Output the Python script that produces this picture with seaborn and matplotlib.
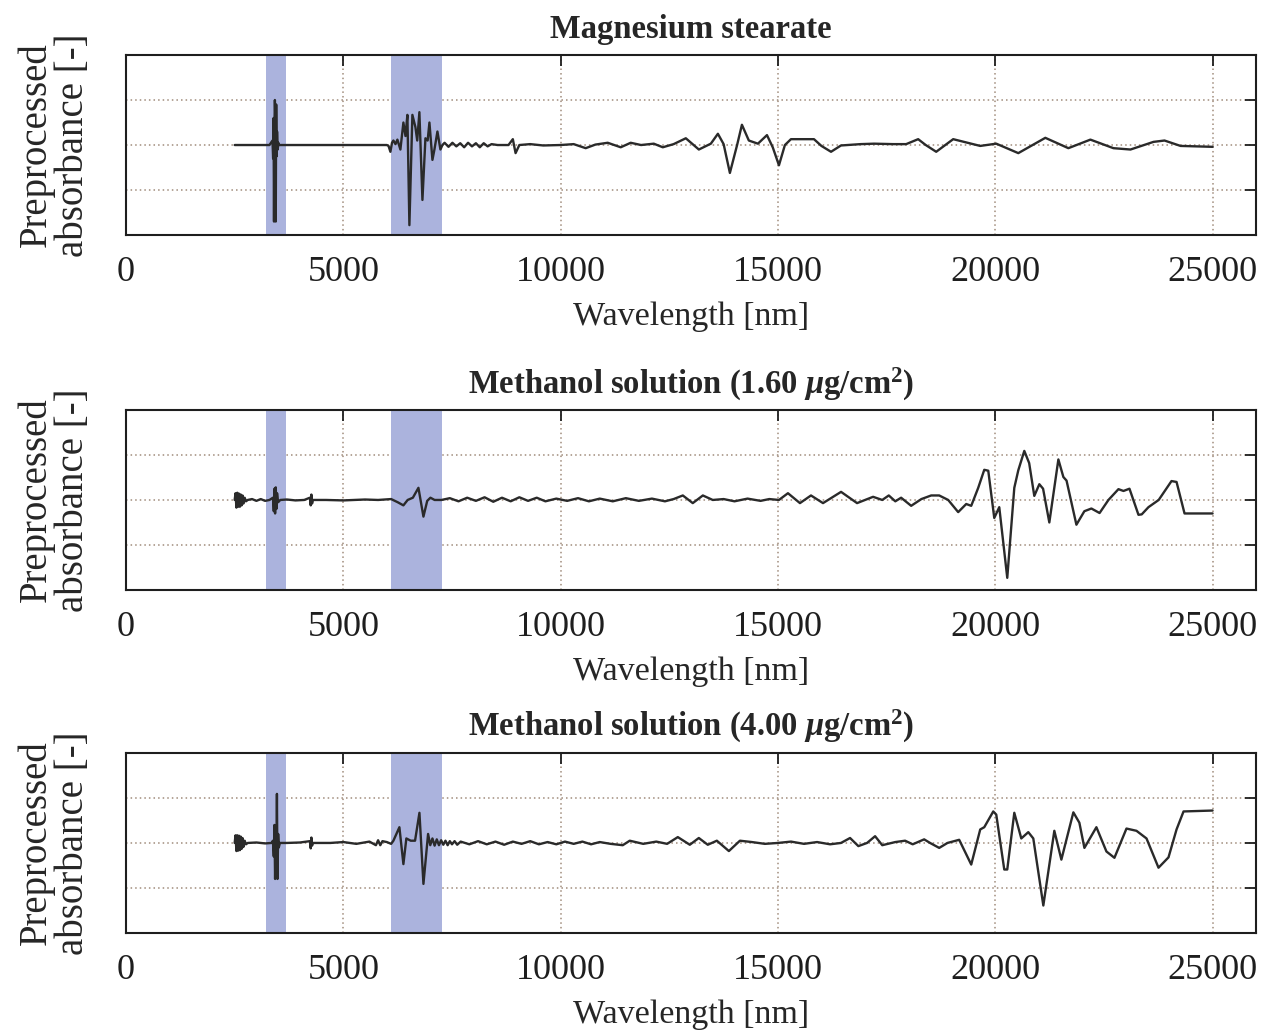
import numpy as np
import pandas as pd
import matplotlib
matplotlib.use("Agg")
import matplotlib.pyplot as plt
import seaborn as sns

# ---- data (x in nm, y in grid units) ----
titles = [
    "Magnesium stearate",
    r"Methanol solution (1.60 $\mu$g/cm$^{\mathrm{2}}$)",
    r"Methanol solution (4.00 $\mu$g/cm$^{\mathrm{2}}$)",
]

bands = [(3230, 3690), (6100, 7280)]

xticks = [0, 5000, 10000, 15000, 20000, 25000]
yticks = [-1, 0, 1]

mg_x = [2500, 3300, 3370, 3385, 3395, 3405, 3415, 3425, 3435, 3445, 3455, 3465,
        3475, 3490, 3505, 3520, 3540, 3600, 6000, 6040, 6083, 6120, 6152, 6200,
        6244, 6313, 6382, 6430, 6474, 6520, 6589, 6658, 6700, 6750, 6820, 6889,
        6940, 6981, 7050, 7096, 7165, 7234, 7280, 7330, 7420, 7510, 7600, 7690,
        7780, 7870, 7960, 8050, 8140, 8230, 8320, 8410, 8550, 8800, 8900, 8963,
        9050, 9300, 9600, 10000, 10300, 10576, 10800, 11083, 11382, 11612, 11850,
        12143, 12350, 12600, 12880, 13180, 13456, 13618, 13750, 13894, 14060,
        14171, 14330, 14539, 14747, 14880, 15023, 15160, 15299, 15829, 16000,
        16221, 16450, 16900, 17212, 17650, 17950, 18226, 18400, 18641, 19032,
        19654, 20023, 20530, 21152, 21682, 22189, 22719, 23111, 23641, 23894,
        24263, 25000]
mg_y = [0, 0, 0.1, -0.3, 0.6, -1.7, 0.4, 1.0, 0.62, -1.7, 0.9, -0.25,
        0.3, -0.1, 0.05, 0, 0, 0, 0, -0.02, -0.15, 0.05, 0.1, 0.02,
        0.12, -0.1, 0.5, 0.2, 0.67, -1.78, 0.67, 0.4, 0.1, 0.73, -1.22, 0.15,
        0.1, 0.5, -0.33, -0.1, 0.3, -0.1, 0.0, 0.05, -0.04, 0.05, -0.03, 0.04,
        -0.05, 0.05, -0.03, 0.04, -0.05, 0.04, -0.03, 0.02, 0.0, 0.0, 0.13, -0.18,
        0.0, 0.02, -0.01, 0.0, 0.02, -0.07, 0.01, 0.05, -0.05, 0.05, 0.0,
        0.03, -0.05, 0.02, 0.15, -0.1, 0.03, 0.25, 0.02, -0.62, 0.0,
        0.45, 0.1, 0.03, 0.22, -0.05, -0.45, 0.0, 0.13, 0.13, -0.02,
        -0.15, -0.01, 0.02, 0.03, 0.02, 0.02, 0.13, 0.0, -0.15, 0.13,
        -0.02, 0.03, -0.18, 0.16, -0.07, 0.12, -0.07, -0.1, 0.07, 0.1,
        -0.02, -0.04]

m16_x = [2500, 2520, 2540, 2560, 2580, 2600, 2620, 2640, 2660, 2680, 2700, 2730,
         2760, 2800, 2900, 3000, 3100, 3200, 3300, 3380, 3400, 3415, 3430, 3445,
         3460, 3475, 3500, 3550, 3700, 3900, 4100, 4230, 4250, 4265, 4280, 4300,
         4600, 5000, 5500, 5800, 6100, 6250, 6382, 6480, 6600, 6728, 6843, 6930,
         7004, 7100, 7258, 7450, 7650, 7850, 8050, 8250, 8450, 8650, 8850, 9050,
         9250, 9450, 9650, 9900, 10150, 10400, 10650, 10900, 11200, 11500, 11800,
         12100, 12400, 12600, 12811, 13040, 13272, 13500, 13750, 14000, 14300,
         14600, 14800, 15023, 15230, 15506, 15760, 16037, 16452, 16820, 17189,
         17400, 17550, 17700, 17834, 18065, 18300, 18526, 18710, 18917, 19147,
         19332, 19447, 19608, 19747, 19839, 19977, 20092, 20276, 20438, 20530,
         20668, 20780, 20898, 21014, 21100, 21244, 21452, 21567, 21640, 21867,
         22050, 22212, 22400, 22604, 22834, 22950, 23088, 23295, 23370, 23525,
         23760, 24055, 24171, 24355, 25000]
m16_y = [0, 0.15, -0.17, 0.16, -0.15, 0.14, -0.15, 0.12, -0.12, 0.1, -0.08, 0.05,
         -0.03, 0.0, 0.02, -0.02, 0.02, -0.02, 0.0, 0.05, -0.25, 0.25, -0.3, 0.28,
         -0.2, 0.15, -0.05, 0.0, 0.01, -0.01, 0.0, 0.05, -0.12, 0.12, -0.08, 0.0,
         0.0, -0.01, 0.01, 0.0, 0.02, -0.05, -0.12, 0.0, 0.05, 0.27, -0.37, -0.02,
         0.05, 0.0, 0.0, 0.04, -0.03, 0.05, -0.02, 0.06, -0.04, 0.05, -0.03, 0.06,
         -0.02, 0.05, -0.03, 0.03, -0.02, 0.04, -0.03, 0.03, -0.03, 0.04, -0.02,
         0.03, -0.03, 0.02, 0.1, -0.07, 0.1, 0.0, 0.02, -0.03, 0.03,
         -0.02, 0.02, 0.0, 0.15, -0.07, 0.1, -0.07, 0.18, -0.07, 0.07,
         0.0, 0.1, -0.03, 0.05, -0.13, 0.02, 0.1, 0.1, 0.0, -0.27,
         -0.09, -0.13, 0.27, 0.67, 0.65, -0.4, -0.16, -1.73, 0.27, 0.66,
         1.09, 0.82, 0.09, 0.35, 0.25, -0.5, 0.9, 0.51, 0.43, -0.55,
         -0.25, -0.19, -0.29, 0.0, 0.24, 0.2, 0.25, -0.33, -0.32, -0.16,
         0.0, 0.42, 0.4, -0.3, -0.3]

m40_x = [2500, 2520, 2540, 2560, 2580, 2600, 2620, 2640, 2660, 2680, 2700, 2730,
         2760, 2800, 3000, 3200, 3350, 3380, 3400, 3415, 3430, 3445, 3460, 3472,
         3485, 3500, 3515, 3540, 3700, 4000, 4230, 4250, 4265, 4280, 4300, 4700,
         5000, 5300, 5600, 5750, 5800, 5850, 5900, 6000, 6100, 6152, 6290, 6382,
         6450, 6550, 6650, 6751, 6843, 6950, 7000, 7050, 7100, 7150, 7200, 7250,
         7300, 7350, 7400, 7450, 7500, 7560, 7620, 7700, 7900, 8100, 8300, 8500,
         8700, 8900, 9100, 9300, 9500, 9700, 9900, 10100, 10300, 10500, 10700,
         10900, 11150, 11429, 11590, 11900, 12200, 12450, 12696, 12972, 13179,
         13385, 13594, 13871, 14125, 14400, 14700, 15000, 15300, 15600, 15900,
         16200, 16450, 16659, 16850, 17050, 17235, 17400, 17700, 17926, 18100,
         18364, 18500, 18710, 18900, 19170, 19447, 19654, 19747, 19954, 20023,
         20207, 20276, 20438, 20599, 20760, 20875, 21106, 21359, 21521, 21797,
         21935, 22051, 22327, 22558, 22742, 23019, 23249, 23480, 23756, 23986,
         24171, 24332, 25000]
m40_y = [0, 0.17, -0.18, 0.17, -0.17, 0.16, -0.16, 0.14, -0.13, 0.11, -0.09, 0.05,
         -0.03, 0.0, 0.01, -0.01, 0.0, 0.05, -0.3, 0.4, -0.8, 0.3, -0.5, 1.09,
         -0.8, 0.2, -0.1, 0.0, 0.0, 0.01, 0.04, -0.12, 0.12, -0.06, 0.0, 0.0,
         0.02, -0.02, 0.03, -0.05, 0.06, -0.05, 0.04, 0.02, -0.02, 0.05, 0.35, -0.47,
         0.1, 0.05, 0.05, 0.67, -0.91, 0.2, -0.05, 0.1, -0.06, 0.08, -0.05, 0.06,
         -0.04, 0.05, -0.05, 0.04, -0.03, 0.04, -0.04, 0.03, -0.03, 0.04, -0.03, 0.03,
         -0.04, 0.03, -0.02, 0.04, -0.03, 0.02, -0.03, 0.03, -0.02, 0.03, -0.03,
         0.02, -0.02, -0.05, 0.05, -0.02, 0.03, -0.02, 0.13, -0.04, 0.11,
         -0.04, 0.05, -0.18, 0.05, 0.02, -0.02, 0.0, 0.03, -0.02, 0.02,
         -0.03, 0.0, 0.11, -0.07, 0.0, 0.15, -0.05, 0.02, 0.05, -0.03,
         0.08, 0.0, -0.11, 0.0, 0.07, -0.48, 0.3, 0.35, 0.7, 0.63,
         -0.59, -0.59, 0.67, 0.1, 0.24, 0.1, -1.39, 0.27, -0.37, 0.68,
         0.45, -0.11, 0.35, -0.19, -0.33, 0.32, 0.27, 0.1, -0.55, -0.32,
         0.3, 0.7, 0.72]

series = [(mg_x, mg_y), (m16_x, m16_y), (m40_x, m40_y)]

# ---- style ----
sns.set_style("white")
plt.rcParams["font.family"] = ["Liberation Serif", "DejaVu Serif"]
plt.rcParams["mathtext.fontset"] = "custom"
plt.rcParams["mathtext.rm"] = "Liberation Serif:bold"
plt.rcParams["mathtext.it"] = "Liberation Serif:italic:bold"
plt.rcParams["mathtext.bf"] = "Liberation Serif:bold"

fig = plt.figure(figsize=(12.64, 10.30), dpi=100)
boxes = [(0.0997, 0.7718), (0.0997, 0.4272), (0.0997, 0.0942)]
band_color = "#abb3dd"
grid_color = "#a08c7c"

for (left, bottom), title, (xs, ys) in zip(boxes, titles, series):
    ax = fig.add_axes([left, bottom, 0.894, 0.1748])
    for lo, hi in bands:
        ax.axvspan(lo, hi, color=band_color, lw=0, zorder=1)
    df = pd.DataFrame({"x": xs, "y": ys})
    sns.lineplot(data=df, x="x", y="y", ax=ax, color="#2a2a2a", lw=1.7,
                 sort=False, estimator=None, zorder=3)
    ax.set_xlim(0, 26000)
    ax.set_ylim(-2, 2)
    ax.set_xticks(xticks)
    ax.set_xticklabels([str(t) for t in xticks])
    ax.set_yticks(yticks)
    ax.set_yticklabels([])
    ax.grid(True, ls=(0, (1, 2)), color=grid_color, lw=1.1, zorder=0)
    ax.tick_params(direction="in", length=8, width=1.3, top=True, right=True,
                   labelsize=26, pad=15, colors="#1e1e1e")
    for sp in ax.spines.values():
        sp.set_color("#1e1e1e")
        sp.set_linewidth(1.5)
    ax.set_xlabel("Wavelength [nm]", fontsize=24.5, labelpad=9)
    ax.set_ylabel("Preprocessed\nabsorbance [-]", fontsize=28, linespacing=1.0)
    ax.yaxis.set_label_coords(-0.03, 0.5)
    ax.set_title(title, fontsize=23.5, fontweight="bold", pad=12)

fig.savefig("out.png", dpi=100)
